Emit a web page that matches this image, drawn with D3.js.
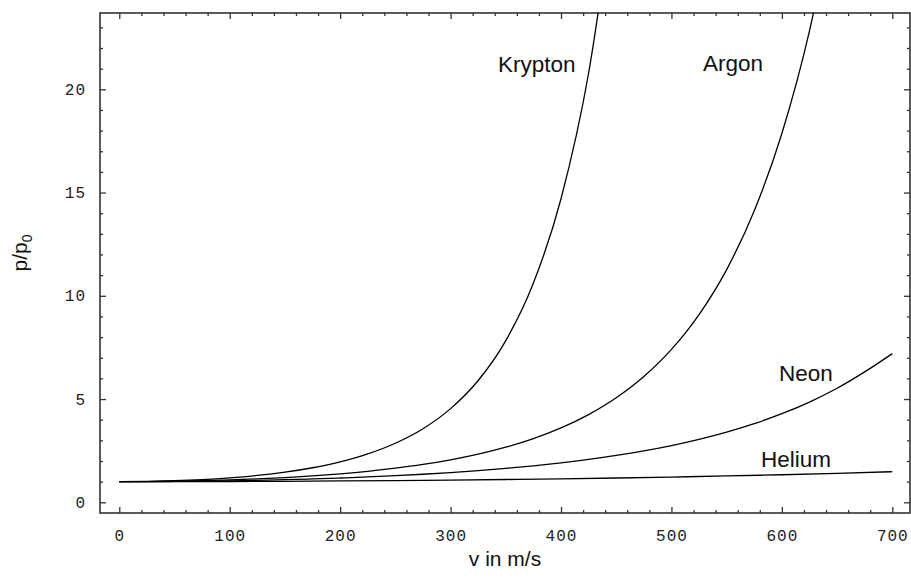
<!DOCTYPE html>
<html>
<head>
<meta charset="utf-8">
<script src="https://cdn.jsdelivr.net/npm/d3@7/dist/d3.min.js"></script>
<style>
  html, body { margin: 0; padding: 0; background: #fff; }
  svg { display: block; }
  .tick text { font-family: "Liberation Mono", monospace; font-size: 16px; fill: #222; letter-spacing: 1px; }
  .tick line { stroke: #333; stroke-width: 1.3; }
  .title { font-family: "Liberation Sans", Arial, sans-serif; fill: #111; }
</style>
</head>
<body>
<svg id="chart" width="911" height="578"></svg>
<script>
// Pressure ratio p/p0 against speed v (m/s) for four noble gases
const speedsKrypton = [0, 25, 50, 75, 100, 125, 150, 175, 200, 225, 250, 275, 300, 325, 350, 375, 400, 425, 450];
const ratioKrypton  = [1, 1.011, 1.043, 1.099, 1.183, 1.300, 1.459, 1.673, 1.958, 2.341, 2.858, 3.562, 4.536, 5.897, 7.830, 10.62, 14.70, 20.79, 30.02];

const speedsArgon = [0, 25, 50, 75, 100, 125, 150, 175, 200, 225, 250, 275, 300, 325, 350, 375, 400, 425, 450, 475, 500, 525, 550, 575, 600, 625, 650];
const ratioArgon  = [1, 1.005, 1.020, 1.046, 1.083, 1.133, 1.197, 1.278, 1.378, 1.500, 1.650, 1.832, 2.056, 2.330, 2.667, 3.084, 3.601, 4.248, 5.061, 6.091, 7.404, 9.091, 11.27, 14.12, 17.86, 22.83, 29.47];

const speedsNeon = [0, 25, 50, 75, 100, 125, 150, 175, 200, 225, 250, 275, 300, 325, 350, 375, 400, 425, 450, 475, 500, 525, 550, 575, 600, 625, 650, 675, 700];
const ratioNeon  = [1, 1.003, 1.010, 1.023, 1.041, 1.065, 1.095, 1.132, 1.176, 1.227, 1.288, 1.358, 1.439, 1.533, 1.641, 1.766, 1.910, 2.076, 2.268, 2.491, 2.749, 3.049, 3.399, 3.809, 4.290, 4.855, 5.523, 6.315, 7.20];

const speedsHelium = [0, 50, 100, 150, 200, 250, 300, 350, 400, 450, 500, 550, 600, 650, 700];
const ratioHelium  = [1, 1.002, 1.008, 1.018, 1.033, 1.051, 1.075, 1.103, 1.137, 1.176, 1.222, 1.275, 1.335, 1.403, 1.481];

const gasNames = ["Krypton", "Argon", "Neon", "Helium"];

const xMajorTicks = [0, 100, 200, 300, 400, 500, 600, 700];
const yMajorTicks = [0, 5, 10, 15, 20];
const xTitle = "v in m/s";

// ---- layout ----
const W = 911, H = 578;
const frame = { left: 100, right: 910, top: 13, bottom: 513 };

const x = d3.scaleLinear().domain([0, 700]).range([119.3, 892.3]);
const y = d3.scaleLinear().domain([0, 20]).range([502.3, 89.3]);

const svg = d3.select("#chart");

svg.append("defs").append("clipPath").attr("id", "plot-clip")
  .append("rect")
  .attr("x", frame.left).attr("y", frame.top)
  .attr("width", frame.right - frame.left).attr("height", frame.bottom - frame.top);

// minor tick values stay inside the frame
const xMin = x.invert(frame.left), xMax = x.invert(frame.right);
const yMin = y.invert(frame.bottom), yMax = y.invert(frame.top);
const xMinor = d3.range(Math.ceil(xMin / 20) * 20, xMax, 20).filter(v => v % 100 !== 0);
const yMinor = d3.range(Math.ceil(yMin), yMax, 1).filter(v => v % 5 !== 0);

function strip(g) { g.select(".domain").remove(); }

// bottom axis with labels
svg.append("g").attr("transform", `translate(0,${frame.bottom})`)
  .call(d3.axisBottom(x).tickValues(xMajorTicks).tickSizeInner(-6).tickSizeOuter(0).tickPadding(17).tickFormat(d3.format("d")))
  .call(strip);
svg.append("g").attr("transform", `translate(0,${frame.bottom})`)
  .call(d3.axisBottom(x).tickValues(xMinor).tickSizeInner(-3).tickSizeOuter(0).tickFormat(""))
  .call(strip);
// top axis, ticks only
svg.append("g").attr("transform", `translate(0,${frame.top})`)
  .call(d3.axisTop(x).tickValues(xMajorTicks).tickSizeInner(-6).tickSizeOuter(0).tickFormat(""))
  .call(strip);
svg.append("g").attr("transform", `translate(0,${frame.top})`)
  .call(d3.axisTop(x).tickValues(xMinor).tickSizeInner(-3).tickSizeOuter(0).tickFormat(""))
  .call(strip);
// left axis with labels
svg.append("g").attr("transform", `translate(${frame.left},0)`)
  .call(d3.axisLeft(y).tickValues(yMajorTicks).tickSizeInner(-6).tickSizeOuter(0).tickPadding(14).tickFormat(d3.format("d")))
  .call(strip);
svg.append("g").attr("transform", `translate(${frame.left},0)`)
  .call(d3.axisLeft(y).tickValues(yMinor).tickSizeInner(-3).tickSizeOuter(0).tickFormat(""))
  .call(strip);
// right axis, ticks only
svg.append("g").attr("transform", `translate(${frame.right},0)`)
  .call(d3.axisRight(y).tickValues(yMajorTicks).tickSizeInner(-6).tickSizeOuter(0).tickFormat(""))
  .call(strip);
svg.append("g").attr("transform", `translate(${frame.right},0)`)
  .call(d3.axisRight(y).tickValues(yMinor).tickSizeInner(-3).tickSizeOuter(0).tickFormat(""))
  .call(strip);

// frame
svg.append("rect")
  .attr("x", frame.left).attr("y", frame.top)
  .attr("width", frame.right - frame.left).attr("height", frame.bottom - frame.top)
  .attr("fill", "none").attr("stroke", "#333").attr("stroke-width", 1.6);

// curves
const series = [
  { name: gasNames[0], v: speedsKrypton, p: ratioKrypton },
  { name: gasNames[1], v: speedsArgon,   p: ratioArgon },
  { name: gasNames[2], v: speedsNeon,    p: ratioNeon },
  { name: gasNames[3], v: speedsHelium,  p: ratioHelium }
];

const line = d3.line()
  .x(d => x(d[0]))
  .y(d => y(d[1]))
  .curve(d3.curveMonotoneX);

svg.append("g").attr("clip-path", "url(#plot-clip)")
  .selectAll("path")
  .data(series)
  .join("path")
  .attr("d", s => line(s.v.map((v, i) => [v, s.p[i]])))
  .attr("fill", "none")
  .attr("stroke", "#000")
  .attr("stroke-width", 1.3);

// curve names
const namePos = {
  Krypton: [498, 71.5],
  Argon:   [703, 70.5],
  Neon:    [779, 381],
  Helium:  [761, 466.5]
};
svg.append("g").selectAll("text")
  .data(gasNames)
  .join("text")
  .attr("class", "title")
  .attr("x", d => namePos[d][0])
  .attr("y", d => namePos[d][1])
  .attr("font-size", 22.5)
  .text(d => d);

// axis titles
svg.append("text")
  .attr("class", "title")
  .attr("x", (frame.left + frame.right) / 2)
  .attr("y", 566)
  .attr("text-anchor", "middle")
  .attr("font-size", 21)
  .text(xTitle);

const yTitle = svg.append("text")
  .attr("class", "title")
  .attr("transform", `translate(27,253) rotate(-90)`)
  .attr("text-anchor", "middle")
  .attr("font-size", 21);
yTitle.append("tspan").text("p/p");
yTitle.append("tspan").attr("font-size", 14).attr("dy", 5).text("0");
</script>
</body>
</html>
